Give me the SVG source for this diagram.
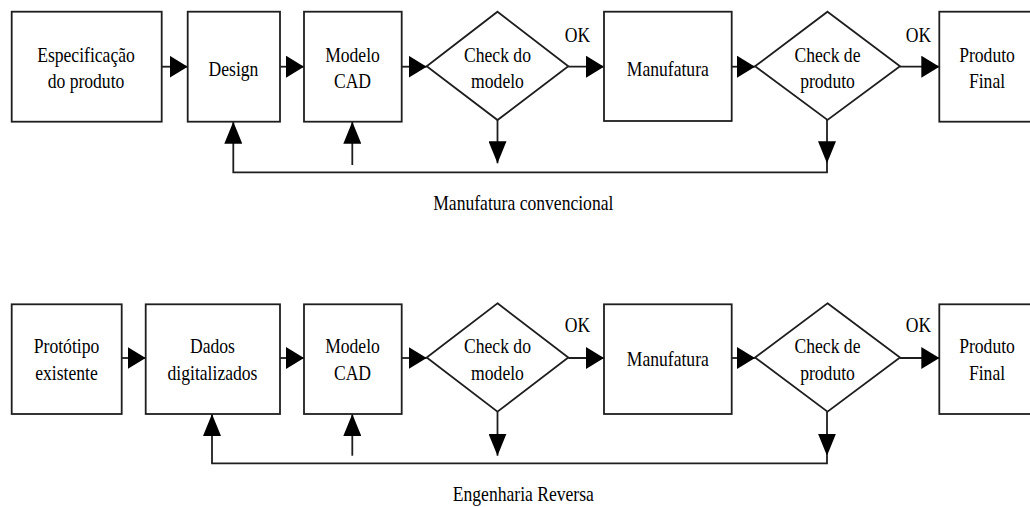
<svg xmlns="http://www.w3.org/2000/svg" width="1030" height="507" viewBox="0 0 1030 507">
<style>
  .box{fill:#fff;stroke:#1e1e1e;stroke-width:1.8}
  .con{fill:none;stroke:#1e1e1e;stroke-width:1.8}
  text{font-family:"Liberation Serif","Times New Roman",serif;font-size:22px;fill:#000;text-anchor:middle}
</style>
<defs>
  <marker id="ah" markerUnits="userSpaceOnUse" viewBox="0 0 18 22" markerWidth="18" markerHeight="22" refX="18" refY="11" orient="auto">
    <path d="M0,0 L18,11 L0,22 Z" fill="#000"/>
  </marker>
  <marker id="av" markerUnits="userSpaceOnUse" viewBox="0 0 22 18" markerWidth="22" markerHeight="18" refX="22" refY="9" orient="auto">
    <path d="M0,0 L22,9 L0,18 Z" fill="#000"/>
  </marker>
</defs>
<rect width="1030" height="507" fill="#fff"/>

<!-- Top row: Manufatura convencional -->
<g id="connectors-top">
  <line class="con" x1="161.7" y1="66.7" x2="187.7" y2="66.7" marker-end="url(#ah)"/>
  <line class="con" x1="280" y1="66.7" x2="304" y2="66.7" marker-end="url(#ah)"/>
  <line class="con" x1="401.7" y1="66.7" x2="426.7" y2="66.7" marker-end="url(#ah)"/>
  <line class="con" x1="568.3" y1="66.7" x2="604" y2="66.7" marker-end="url(#ah)"/>
  <line class="con" x1="731.7" y1="66.7" x2="755" y2="66.7" marker-end="url(#ah)"/>
  <line class="con" x1="900" y1="66.7" x2="939.3" y2="66.7" marker-end="url(#ah)"/>
  <line class="con" x1="497.5" y1="120" x2="497.5" y2="163.3" marker-end="url(#av)"/>
  <line class="con" x1="827" y1="120" x2="827" y2="163.3" marker-end="url(#av)"/>
  <path class="con" d="M827,163 L827,172.3 L233.3,172.3 L233.3,121.7" marker-end="url(#av)"/>
  <line class="con" x1="352.3" y1="165" x2="352.3" y2="121.7" marker-end="url(#av)"/>
</g>

<g id="t-espec">
  <rect class="box" x="11.7" y="11.7" width="150" height="110"/>
  <text transform="translate(86,61.7) scale(0.8,1)">Especificação</text>
  <text transform="translate(86,88.3) scale(0.8,1)">do produto</text>
</g>
<g id="t-design">
  <rect class="box" x="187.7" y="11.7" width="92.3" height="110"/>
  <text transform="translate(233.5,76) scale(0.8,1)">Design</text>
</g>
<g id="t-cad">
  <rect class="box" x="304" y="11.7" width="97.7" height="110"/>
  <text transform="translate(352.5,61.7) scale(0.8,1)">Modelo</text>
  <text transform="translate(352.5,88.3) scale(0.8,1)">CAD</text>
</g>
<g id="t-check-modelo">
  <polygon class="box" points="497.5,11.7 568.3,66.3 497.5,120 426.7,66.3"/>
  <text transform="translate(497.5,61.7) scale(0.8,1)">Check do</text>
  <text transform="translate(497.5,88.3) scale(0.8,1)">modelo</text>
</g>
<g id="t-ok1">
  <text transform="translate(577.5,41.7) scale(0.8,1)">OK</text>
</g>
<g id="t-manuf">
  <rect class="box" x="604" y="11.7" width="127.7" height="109.3"/>
  <text transform="translate(667.8,76) scale(0.8,1)">Manufatura</text>
</g>
<g id="t-check-produto">
  <polygon class="box" points="827.5,11.7 900,66.3 827.5,120 755,66.3"/>
  <text transform="translate(827.5,61.7) scale(0.8,1)">Check de</text>
  <text transform="translate(827.5,88) scale(0.8,1)">produto</text>
</g>
<g id="t-ok2">
  <text transform="translate(918.5,41.7) scale(0.8,1)">OK</text>
</g>
<g id="t-final">
  <rect class="box" x="939.3" y="11.7" width="100" height="110"/>
  <text transform="translate(987,61.7) scale(0.8,1)">Produto</text>
  <text transform="translate(987,88.3) scale(0.8,1)">Final</text>
</g>
<g id="label-top">
  <text transform="translate(523.3,210) scale(0.8,1)">Manufatura convencional</text>
</g>

<!-- Bottom row: Engenharia Reversa -->
<g id="connectors-bottom">
  <line class="con" x1="121.7" y1="358" x2="145.7" y2="358" marker-end="url(#ah)"/>
  <line class="con" x1="280" y1="358" x2="304" y2="358" marker-end="url(#ah)"/>
  <line class="con" x1="401.7" y1="358" x2="426.7" y2="358" marker-end="url(#ah)"/>
  <line class="con" x1="568.3" y1="358" x2="604" y2="358" marker-end="url(#ah)"/>
  <line class="con" x1="731.7" y1="358" x2="755" y2="358" marker-end="url(#ah)"/>
  <line class="con" x1="900" y1="358" x2="939.3" y2="358" marker-end="url(#ah)"/>
  <line class="con" x1="497.5" y1="411.7" x2="497.5" y2="455.7" marker-end="url(#av)"/>
  <line class="con" x1="827" y1="411.7" x2="827" y2="455.7" marker-end="url(#av)"/>
  <path class="con" d="M827,455.5 L827,463.3 L212,463.3 L212,414" marker-end="url(#av)"/>
  <line class="con" x1="352.3" y1="455.7" x2="352.3" y2="414" marker-end="url(#av)"/>
</g>

<g id="b-prototipo">
  <rect class="box" x="11.7" y="304.3" width="110" height="109.7"/>
  <text transform="translate(66.5,353.3) scale(0.8,1)">Protótipo</text>
  <text transform="translate(66.5,380) scale(0.8,1)">existente</text>
</g>
<g id="b-dados">
  <rect class="box" x="145.7" y="304.3" width="134.3" height="109.7"/>
  <text transform="translate(212.5,353.3) scale(0.8,1)">Dados</text>
  <text transform="translate(212.5,380) scale(0.8,1)">digitalizados</text>
</g>
<g id="b-cad">
  <rect class="box" x="304" y="304.3" width="97.7" height="109.7"/>
  <text transform="translate(352.5,353.3) scale(0.8,1)">Modelo</text>
  <text transform="translate(352.5,380) scale(0.8,1)">CAD</text>
</g>
<g id="b-check-modelo">
  <polygon class="box" points="497.5,303.3 568.3,357.5 497.5,411.7 426.7,357.5"/>
  <text transform="translate(497.5,353.3) scale(0.8,1)">Check do</text>
  <text transform="translate(497.5,380) scale(0.8,1)">modelo</text>
</g>
<g id="b-ok1">
  <text transform="translate(577.5,332.3) scale(0.8,1)">OK</text>
</g>
<g id="b-manuf">
  <rect class="box" x="604" y="304.3" width="127.7" height="109.7"/>
  <text transform="translate(667.8,366) scale(0.8,1)">Manufatura</text>
</g>
<g id="b-check-produto">
  <polygon class="box" points="827.5,303.3 900,357.5 827.5,411.7 755,357.5"/>
  <text transform="translate(827.5,353.3) scale(0.8,1)">Check de</text>
  <text transform="translate(827.5,379.5) scale(0.8,1)">produto</text>
</g>
<g id="b-ok2">
  <text transform="translate(918.5,332.3) scale(0.8,1)">OK</text>
</g>
<g id="b-final">
  <rect class="box" x="939.3" y="304.3" width="100" height="109.7"/>
  <text transform="translate(987,353.3) scale(0.8,1)">Produto</text>
  <text transform="translate(987,380) scale(0.8,1)">Final</text>
</g>
<g id="label-bottom">
  <text transform="translate(523.3,500.5) scale(0.8,1)">Engenharia Reversa</text>
</g>
</svg>
